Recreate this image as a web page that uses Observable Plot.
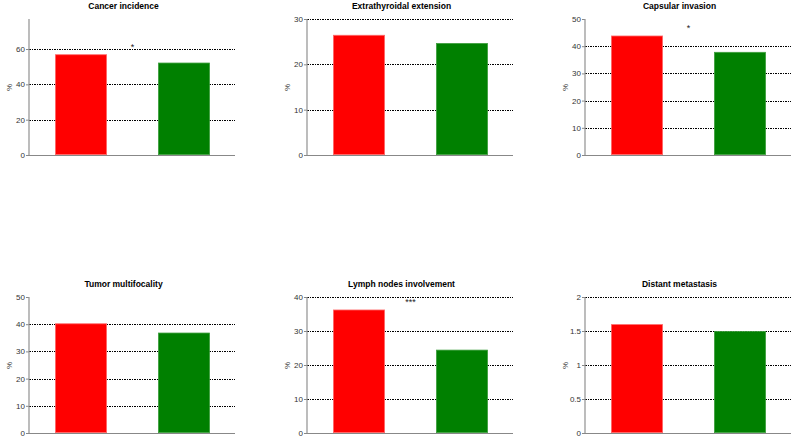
<!DOCTYPE html>
<html>
<head>
<meta charset="utf-8">
<script src="https://cdn.jsdelivr.net/npm/d3@7"></script>
<script src="https://cdn.jsdelivr.net/npm/@observablehq/plot@0.6"></script>
<style>
  html, body { margin: 0; padding: 0; background: #fff; }
  #grid { position: relative; width: 797px; height: 439px; overflow: hidden; }
  #grid svg { position: absolute; }
</style>
</head>
<body>
<div id="grid"></div>
<script>
// Two groups compared in each panel
const groups = ["Group 1", "Group 2"];
const groupColors = ["#ff0000", "#008000"];
const groupEdges = ["#ff6a6a", "#3f9f3f"];

// Panel titles, row by row
const titles = [
  "Cancer incidence", "Extrathyroidal extension", "Capsular invasion",
  "Tumor multifocality", "Lymph nodes involvement", "Distant metastasis"
];

// Percentages per panel (group 1, group 2)
const cancerIncidence = [57.0, 52.3];
const extrathyroidalExtension = [26.5, 24.7];
const capsularInvasion = [43.9, 37.9];
const tumorMultifocality = [40.3, 36.9];
const lymphNodesInvolvement = [36.3, 24.5];
const distantMetastasis = [1.6, 1.5];

// Axis extent, tick labels and dotted grid levels per panel
const yMax = [77, 30, 50, 50, 40, 2];
const yTicks = [
  [0, 20, 40, 60], [0, 10, 20, 30], [0, 10, 20, 30, 40, 50],
  [0, 10, 20, 30, 40, 50], [0, 10, 20, 30, 40], [0, 0.5, 1, 1.5, 2]
];
const gridLevels = [
  [20, 40, 60], [10, 20, 30], [10, 20, 30, 40],
  [10, 20, 30, 40], [10, 20, 30, 40], [0.5, 1, 1.5, 2]
];

// Significance markers between the two groups
const significance = ["*", "", "*", "", "***", ""];

const series = [
  cancerIncidence, extrathyroidalExtension, capsularInvasion,
  tumorMultifocality, lymphNodesInvolvement, distantMetastasis
];

const font = "'Liberation Sans', Arial, Helvetica, sans-serif";
const colLeft = [-1, 277, 555];
const rowTop = [0, 278];
const container = document.getElementById("grid");

series.forEach((values, i) => {
  const rows = groups.map((g, j) => ({group: g, value: values[j]}));
  const top = d3.max(values);

  const chart = Plot.plot({
    width: 242,
    height: 160,
    marginLeft: 30,
    marginRight: 6,
    marginTop: 19,
    marginBottom: 5,
    style: {background: "white", fontFamily: font, fontSize: "8px", color: "#333", overflow: "visible"},
    x: {domain: groups, paddingInner: 0.5, paddingOuter: 0.25, axis: null},
    y: {domain: [0, yMax[i]]},
    color: {domain: groups, range: groupColors},
    marks: [
      Plot.ruleY(gridLevels[i], {stroke: "#000", strokeWidth: 1, strokeDasharray: "1.5,1", shapeRendering: "crispEdges"}),
      Plot.barY(rows, {
        x: "group", y: "value", fill: "group",
        stroke: d => groupEdges[groups.indexOf(d.group)], strokeWidth: 0.8, inset: 0.4
      }),
      Plot.ruleY([0], {stroke: "#888", strokeWidth: 1, shapeRendering: "crispEdges"}),
      Plot.axisY({
        ticks: yTicks[i], tickFormat: d => String(d), tickSize: 3, tickPadding: 1.5, stroke: "#888",
        fill: "#333", fontSize: 8, label: "%", labelAnchor: "center",
        labelOffset: 23, labelArrow: "none"
      }),
      Plot.text([titles[i]], {
        text: d => d, frameAnchor: "top", lineAnchor: "middle",
        dy: -13, dx: -9, fontWeight: "bold", fontSize: 8.5, fill: "#000"
      }),
      Plot.text(significance[i] ? [{label: significance[i], value: top}] : [], {
        text: "label", y: "value", dy: -8, fontSize: 9, fill: "#222"
      })
    ]
  });

  // Vertical axis line along the left edge of the frame
  const xr = chart.scale("x").range;
  const yr = chart.scale("y").range;
  d3.select(chart).append("line")
    .attr("x1", xr[0]).attr("x2", xr[0])
    .attr("y1", yr[0]).attr("y2", yr[1])
    .attr("stroke", "#999").attr("stroke-width", 1.3);

  chart.style.left = colLeft[i % 3] + "px";
  chart.style.top = rowTop[Math.floor(i / 3)] + "px";
  container.appendChild(chart);
});
</script>
</body>
</html>
